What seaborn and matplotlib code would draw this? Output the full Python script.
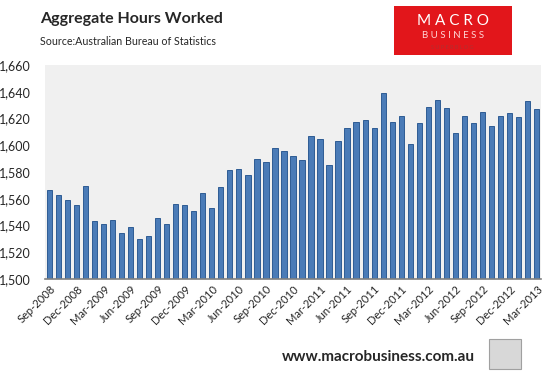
import numpy as np
import pandas as pd
import seaborn as sns
from matplotlib import pyplot as plt
from matplotlib.patches import Rectangle
from matplotlib.ticker import FuncFormatter, MultipleLocator

# データ (Sep-2008 .. Mar-2013, 月次)
months = pd.date_range("2008-09-01", "2013-03-01", freq="MS").strftime("%b-%Y").tolist()
hours = [1566.5, 1563, 1559, 1555.5, 1569.8, 1543.5, 1541.3, 1544.3, 1534.5, 1539,
         1530, 1532.3, 1545.8, 1541.3, 1556.3, 1555.5, 1551, 1564.5, 1553.3, 1569,
         1581.8, 1582.5, 1578, 1590, 1587.5, 1598, 1596, 1592, 1589.3, 1606.5,
         1604.3, 1585.5, 1603.5, 1613, 1617, 1619, 1613, 1638.8, 1617, 1622,
         1601, 1616.3, 1628.8, 1633.5, 1627.5, 1608.8, 1621.5, 1616.3, 1624.5, 1614,
         1622, 1623.8, 1620.8, 1632.8, 1626.8]
df = pd.DataFrame({"month": months, "hours": hours})

sns.set_style("white")
plt.rcParams["font.family"] = ["Lato", "DejaVu Sans"]

fig = plt.figure(figsize=(5.52, 3.73), dpi=100)
ax = fig.add_axes([0.0815, 0.252, 0.8985, 0.574])
ax.set_facecolor("#f0f0f0")

sns.barplot(data=df, x="month", y="hours", color="#4a7bb7", width=0.58,
            edgecolor="#2e5c94", linewidth=0.7, saturation=1, ax=ax)

ax.set_ylim(1500, 1660)
ax.yaxis.set_major_locator(MultipleLocator(20))
ax.yaxis.set_major_formatter(FuncFormatter(lambda v, p: f"{v:,.0f}"))
ax.set_xlim(-0.5, len(months) - 0.5)

# ラベルは3か月ごと
ticks = list(range(0, len(months), 3))
ax.set_xticks(ticks)
ax.set_xticklabels([months[i] for i in ticks], rotation=45, ha="right",
                   rotation_mode="anchor", fontsize=8)
ax.set_xticks([i - 0.5 for i in ticks[1:]], minor=True)
ax.tick_params(axis="x", which="major", length=0, pad=3)
ax.tick_params(axis="x", which="minor", length=3, color="#808080", direction="in")
ax.tick_params(axis="y", length=0, labelsize=9, pad=10)
ax.set_xlabel("")
ax.set_ylabel("")

for s in ["top", "right", "left"]:
    ax.spines[s].set_visible(False)
ax.spines["bottom"].set_color("#808080")
ax.spines["bottom"].set_linewidth(1.2)

# タイトル
fig.text(0.073, 0.95, "Aggregate Hours Worked", fontsize=11.5, fontweight="bold",
         va="center", ha="left")
fig.text(0.073, 0.888, "Source:Australian Bureau of Statistics", fontsize=7.7,
         va="center", ha="left")

# ロゴ
fig.patches.append(Rectangle((0.713, 0.853), 0.215, 0.132, transform=fig.transFigure,
                             facecolor="#e2161b", edgecolor="none"))
fig.text(0.82, 0.945, "M A C R O", fontsize=11, color="white", ha="center", va="center")
fig.text(0.82, 0.905, "B U S I N E S S", fontsize=7, color="#ffd6d6", ha="center",
         va="center")
fig.text(0.82, 0.872, "S U P E R B L O G", fontsize=4, color="#b03030", ha="center",
         va="center")

# フッター
fig.text(0.86, 0.043, "www.macrobusiness.com.au", fontsize=11, fontweight="bold",
         ha="right", va="center")
fig.patches.append(Rectangle((0.885, 0.01), 0.058, 0.08, transform=fig.transFigure,
                             facecolor="#d8d8d8", edgecolor="#a0a0a0", linewidth=0.8))

plt.savefig("out.png", dpi=100)
